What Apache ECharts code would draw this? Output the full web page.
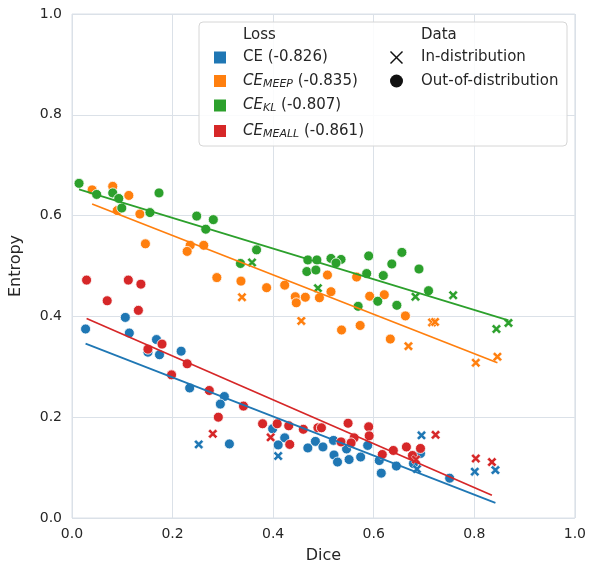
<!DOCTYPE html>
<html>
<head>
<meta charset="utf-8">
<script src="https://cdn.jsdelivr.net/npm/echarts@6/dist/echarts.min.js"></script>
<style>html,body{margin:0;padding:0;background:#fff}#c{width:589px;height:569px}</style>
</head>
<body>
<div id="c"></div>
<script>
// ---- data ----
var xTicks = [0, 0.2, 0.4, 0.6, 0.8, 1.0];
var yTicks = [0, 0.2, 0.4, 0.6, 0.8, 1.0];

var ceOOD = [[0.027,0.375],[0.106,0.398],[0.114,0.367],[0.168,0.354],[0.151,0.329],[0.174,0.324],[0.217,0.331],[0.234,0.258],[0.303,0.241],[0.295,0.226],[0.313,0.147],[0.399,0.177],[0.423,0.159],[0.410,0.145],[0.469,0.139],[0.484,0.152],[0.499,0.141],[0.520,0.154],[0.521,0.125],[0.528,0.111],[0.546,0.137],[0.551,0.116],[0.574,0.121],[0.588,0.144],[0.611,0.114],[0.615,0.089],[0.645,0.103],[0.679,0.108],[0.693,0.128],[0.751,0.079]];
var ceID = [[0.252,0.146],[0.410,0.123],[0.686,0.097],[0.695,0.164],[0.801,0.092],[0.842,0.095]];
var ceFit = [[0.027,0.346],[0.842,0.030]];

var meepOOD = [[0.040,0.651],[0.081,0.658],[0.113,0.640],[0.090,0.610],[0.135,0.603],[0.146,0.544],[0.235,0.541],[0.229,0.529],[0.262,0.541],[0.288,0.477],[0.336,0.470],[0.387,0.457],[0.423,0.462],[0.444,0.439],[0.446,0.427],[0.464,0.438],[0.492,0.437],[0.508,0.482],[0.515,0.449],[0.566,0.478],[0.592,0.440],[0.621,0.443],[0.536,0.373],[0.573,0.382],[0.663,0.401],[0.633,0.355]];
var meepID = [[0.338,0.438],[0.456,0.391],[0.669,0.341],[0.716,0.388],[0.722,0.389],[0.803,0.308],[0.846,0.320]];
var meepFit = [[0.040,0.623],[0.846,0.308]];

var klOOD = [[0.014,0.664],[0.049,0.642],[0.081,0.645],[0.093,0.634],[0.099,0.615],[0.173,0.645],[0.155,0.606],[0.248,0.599],[0.281,0.592],[0.266,0.573],[0.367,0.532],[0.335,0.505],[0.469,0.512],[0.467,0.489],[0.487,0.512],[0.515,0.515],[0.535,0.513],[0.525,0.506],[0.485,0.492],[0.590,0.520],[0.656,0.527],[0.636,0.504],[0.586,0.485],[0.619,0.481],[0.690,0.494],[0.608,0.430],[0.646,0.422],[0.569,0.420],[0.709,0.451]];
var klID = [[0.358,0.507],[0.489,0.456],[0.683,0.439],[0.758,0.442],[0.844,0.375],[0.868,0.387]];
var klFit = [[0.014,0.652],[0.868,0.392]];

var meallOOD = [[0.029,0.472],[0.112,0.472],[0.137,0.464],[0.070,0.431],[0.132,0.412],[0.151,0.335],[0.179,0.345],[0.229,0.306],[0.198,0.284],[0.273,0.253],[0.341,0.222],[0.291,0.200],[0.379,0.187],[0.408,0.187],[0.431,0.183],[0.460,0.176],[0.433,0.146],[0.489,0.179],[0.496,0.179],[0.549,0.188],[0.590,0.181],[0.591,0.163],[0.561,0.159],[0.535,0.151],[0.555,0.149],[0.617,0.126],[0.639,0.134],[0.665,0.141],[0.677,0.124],[0.693,0.138]];
var meallID = [[0.280,0.167],[0.395,0.160],[0.684,0.116],[0.723,0.165],[0.803,0.118],[0.835,0.111]];
var meallFit = [[0.029,0.396],[0.835,0.045]];

var lossNames = ['CE', 'CE_MEEP', 'CE_KL', 'CE_MEALL'];
var lossCorr = ['-0.826', '-0.835', '-0.807', '-0.861'];
var colors = ['#1f77b4', '#ff7f0e', '#2ca02c', '#d62728'];

// ---- chart ----
var chart = echarts.init(document.getElementById('c'), null, {renderer: 'canvas'});
var XPATH = 'path://M0,2.2 L2.2,0 L5,2.8 L7.8,0 L10,2.2 L7.2,5 L10,7.8 L7.8,10 L5,7.2 L2.2,10 L0,7.8 L2.8,5 Z';
var groups = [[ceOOD, ceID, ceFit], [meepOOD, meepID, meepFit], [klOOD, klID, klFit], [meallOOD, meallID, meallFit]];
var series = [];
groups.forEach(function (g, i) {
  series.push({type: 'scatter', data: g[0], symbol: 'circle', symbolSize: 10, z: 2,
    itemStyle: {color: colors[i], borderColor: '#fff', borderWidth: 0.8, opacity: 1}});
  series.push({type: 'scatter', data: g[1], symbol: XPATH, symbolSize: 9.5, z: 2,
    itemStyle: {color: colors[i], borderColor: '#fff', borderWidth: 0.5, opacity: 1}});
});
groups.forEach(function (g, i) {
  series.push({type: 'line', data: g[2], showSymbol: false, symbol: 'none', z: 3,
    lineStyle: {color: colors[i], width: 1.7}});
});

var font = 'DejaVu Sans';
var txt = '#262626';
var legendX = 243, ys = [57.5, 81, 105.5, 131];
var graphics = [
  {type: 'rect', shape: {x: 199, y: 22, width: 368, height: 124, r: 4},
   style: {fill: 'rgba(255,255,255,0.85)', stroke: '#d6d6d6', lineWidth: 1}, z: 10},
  {type: 'text', x: legendX, y: 35, style: {text: 'Loss', font: '15px "DejaVu Sans"', fill: txt, verticalAlign: 'middle'}, z: 11},
  {type: 'text', x: 421, y: 35, style: {text: 'Data', font: '15px "DejaVu Sans"', fill: txt, verticalAlign: 'middle'}, z: 11}
];
var labels = [
  '{n|CE (' + lossCorr[0] + ')}',
  '{i|CE}{s|MEEP}{n| (' + lossCorr[1] + ')}',
  '{i|CE}{s|KL}{n| (' + lossCorr[2] + ')}',
  '{i|CE}{s|MEALL}{n| (' + lossCorr[3] + ')}'
];
var rich = {
  n: {fontSize: 15, fontFamily: font, color: txt, lineHeight: 20},
  i: {fontSize: 15, fontFamily: font, fontStyle: 'italic', color: txt, lineHeight: 20},
  s: {fontSize: 11, fontFamily: font, fontStyle: 'italic', color: txt, lineHeight: 20, padding: [6, 0, 0, 0]}
};
for (var k = 0; k < 4; k++) {
  graphics.push({type: 'rect', shape: {x: 214, y: ys[k] - 6, width: 12, height: 12},
    style: {fill: colors[k]}, z: 11});
  graphics.push({type: 'text', x: legendX, y: ys[k], style: {text: labels[k], rich: rich, verticalAlign: 'middle', fill: txt}, z: 11});
}
graphics.push({type: 'line', shape: {x1: 390.5, y1: 51.5, x2: 402.5, y2: 63.5}, style: {stroke: '#111', lineWidth: 1.5}, z: 11});
graphics.push({type: 'line', shape: {x1: 402.5, y1: 51.5, x2: 390.5, y2: 63.5}, style: {stroke: '#111', lineWidth: 1.5}, z: 11});
graphics.push({type: 'circle', shape: {cx: 396.5, cy: 81, r: 6.5}, style: {fill: '#111'}, z: 11});
graphics.push({type: 'text', x: 421, y: 57.5, style: {text: 'In-distribution', font: '15px "DejaVu Sans"', fill: txt, verticalAlign: 'middle'}, z: 11});
graphics.push({type: 'text', x: 421, y: 81, style: {text: 'Out-of-distribution', font: '15px "DejaVu Sans"', fill: txt, verticalAlign: 'middle'}, z: 11});

var gridColor = '#dbe1e8';
chart.setOption({
  animation: false,
  backgroundColor: '#fff',
  grid: {left: 67, right: 14, top: 14, bottom: 44, show: true, borderColor: gridColor, borderWidth: 1},
  xAxis: {type: 'value', min: xTicks[0], max: xTicks[xTicks.length - 1], interval: 0.2,
    name: 'Dice', nameLocation: 'middle', nameGap: 30,
    nameTextStyle: {fontFamily: font, fontSize: 16, color: txt},
    axisLine: {show: false}, axisTick: {show: false},
    axisLabel: {fontFamily: font, fontSize: 14, color: txt, margin: 9, formatter: function (v) { return v.toFixed(1); }},
    splitLine: {show: true, lineStyle: {color: gridColor, width: 1}}},
  yAxis: {type: 'value', min: yTicks[0], max: yTicks[yTicks.length - 1], interval: 0.2,
    name: 'Entropy', nameLocation: 'middle', nameGap: 48,
    nameTextStyle: {fontFamily: font, fontSize: 16, color: txt},
    axisLine: {show: false}, axisTick: {show: false},
    axisLabel: {fontFamily: font, fontSize: 14, color: txt, margin: 10, formatter: function (v) { return v.toFixed(1); }},
    splitLine: {show: true, lineStyle: {color: gridColor, width: 1}}},
  series: series,
  graphic: graphics
});
</script>
</body>
</html>
